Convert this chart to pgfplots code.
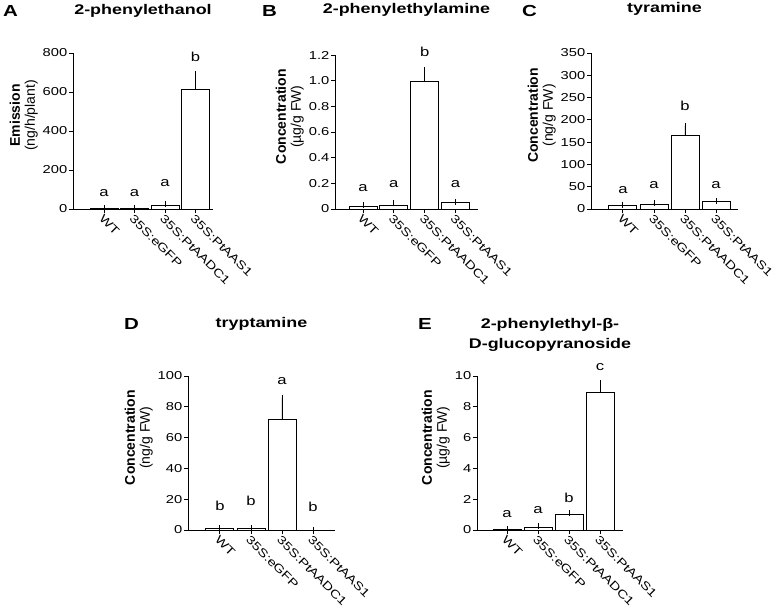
\documentclass[border=0pt]{standalone}
\usepackage{pgfplots}
\pgfplotsset{compat=1.18}
\usepackage{fontspec}
\setmainfont{Liberation Sans}[FakeStretch=1.28]
\newfontfamily\ylfont{Liberation Sans}

\pgfplotsset{
  panel/.style={
    scale only axis,
    anchor=south west,
    clip=false,
    axis x line*=bottom,
    axis y line*=left,
    axis line style={line width=0.9pt, black},
    tick align=outside,
    major tick length=4pt,
    tick style={line width=0.9pt, black},
    xtick={0,1,2,3},
    xticklabels={WT,35S:eGFP,35S:PtAADC1,35S:PtAAS1},
    xticklabel style={rotate=-45, anchor=north west, inner sep=0.5pt,
      font=\fontsize{11.5}{13}\selectfont},
    yticklabel style={font=\fontsize{11.5}{13}\selectfont, inner sep=1.5pt},
    /pgf/number format/assume math mode=true,
    ymin=0,
    every axis title shift=0pt,
    title style={font=\fontsize{14}{20}\selectfont\bfseries, anchor=base,
      at={(0.5,1)}, align=center},
    ylabel style={align=center, at={(ticklabel cs:0.6)},
      font=\fontsize{14}{15}\selectfont\ylfont},
  },
  bars/.style={ybar, bar width=28pt, bar shift=0pt, fill=white, draw=black,
    line width=0.9pt,
    error bars/.cd, y dir=plus, y explicit, error mark=-,
    error mark options={mark size=3pt, line width=0.9pt, black},
    error bar style={line width=0.9pt, black}},
  letters/.style={draw=none, mark=none, nodes near coords,
    point meta=explicit symbolic,
    every node near coord/.append style={anchor=base, inner sep=0pt,
      font=\fontsize{13}{15}\selectfont}},
}

\begin{document}
\begin{tikzpicture}
\path[use as bounding box] (0,0) rectangle (774pt,612pt);

% A
\begin{axis}[panel, at={(73pt,403pt)}, width=140pt, height=156pt,
  xmin=-1.02, xmax=3.57, ymax=800, ytick={0,200,400,600,800},
  title={2-phenylethanol}, title style={yshift=38pt},
  ylabel={{\bfseries Emission}\\(ng/h/plant)}]
\addplot[bars] coordinates {(0,3) +- (0,1) (1,3) +- (0,1) (2,17) +- (0,10) (3,615) +- (0,77)};
\addplot[letters] coordinates {(0,63)[a] (1,63)[a] (2,113)[a] (3,755)[b]};
\end{axis}

% B
\begin{axis}[panel, at={(335pt,403pt)}, width=143pt, height=154pt,
  xmin=-0.91, xmax=3.73, ymax=1.2,
  ytick={0,0.2,0.4,0.6,0.8,1.0,1.2}, yticklabels={0,0.2,0.4,0.6,0.8,1.0,1.2},
  title={2-phenylethylamine}, title style={yshift=41pt},
  ylabel={{\bfseries Concentration}\\(µg/g FW)}]
\addplot[bars] coordinates {(0,0.018) +- (0,0.012) (1,0.031) +- (0,0.013) (2,0.99) +- (0,0.09) (3,0.049) +- (0,0.004)};
\addplot[letters] coordinates {(0,0.14)[a] (1,0.17)[a] (2,1.185)[b] (3,0.17)[a]};
\end{axis}

% C
\begin{axis}[panel, at={(591pt,403pt)}, width=147pt, height=156pt,
  xmin=-1.03, xmax=3.71, ymax=350, ytick={0,50,100,150,200,250,300,350},
  title={tyramine}, title style={yshift=40pt},
  ylabel={{\bfseries Concentration}\\(ng/g FW)}]
\addplot[bars] coordinates {(0,7.4) +- (0,1.6) (1,10.5) +- (0,3) (2,164.5) +- (0,22) (3,16.4) +- (0,1.5)};
\addplot[letters] coordinates {(0,35)[a] (1,46)[a] (2,220)[b] (3,46)[a]};
\end{axis}

% D
\begin{axis}[panel, at={(188pt,82pt)}, width=147pt, height=154pt,
  xmin=-1.03, xmax=3.71, ymax=100, ytick={0,20,40,60,80,100},
  title={tryptamine}, title style={yshift=48pt},
  ylabel={{\bfseries Concentration}\\(ng/g FW)}]
\addplot[bars] coordinates {(0,1) +- (0,0.3) (1,1) +- (0,0.2) (2,72) +- (0,14) (3,0) +- (0,0)};
\addplot[letters] coordinates {(0,12.5)[b] (1,15.6)[b] (2,94.8)[a] (3,12.3)[b]};
\end{axis}

% E
\begin{axis}[panel, at={(477pt,82pt)}, width=146pt, height=154pt,
  xmin=-0.97, xmax=3.74, ymax=10, ytick={0,2,4,6,8,10},
  title={2-phenylethyl-β-\\D-glucopyranoside}, title style={yshift=27pt},
  ylabel={{\bfseries Concentration}\\(µg/g FW)}]
\addplot[bars] coordinates {(0,0.05) +- (0,0.01) (1,0.18) +- (0,0.05) (2,1.02) +- (0,0.07) (3,8.9) +- (0,0.65)};
\addplot[letters] coordinates {(0,0.78)[a] (1,1.08)[a] (2,1.8)[b] (3,10.35)[c]};
\end{axis}

% panel letters
\begin{scope}[every node/.style={font=\fontsize{16}{16}\selectfont\bfseries, anchor=base west, inner sep=0pt}]
\node at (3pt,595pt) {A};
\node at (262pt,595pt) {B};
\node at (522pt,595pt) {C};
\node at (124pt,282pt) {D};
\node at (418pt,282pt) {E};
\end{scope}
\end{tikzpicture}
\end{document}
